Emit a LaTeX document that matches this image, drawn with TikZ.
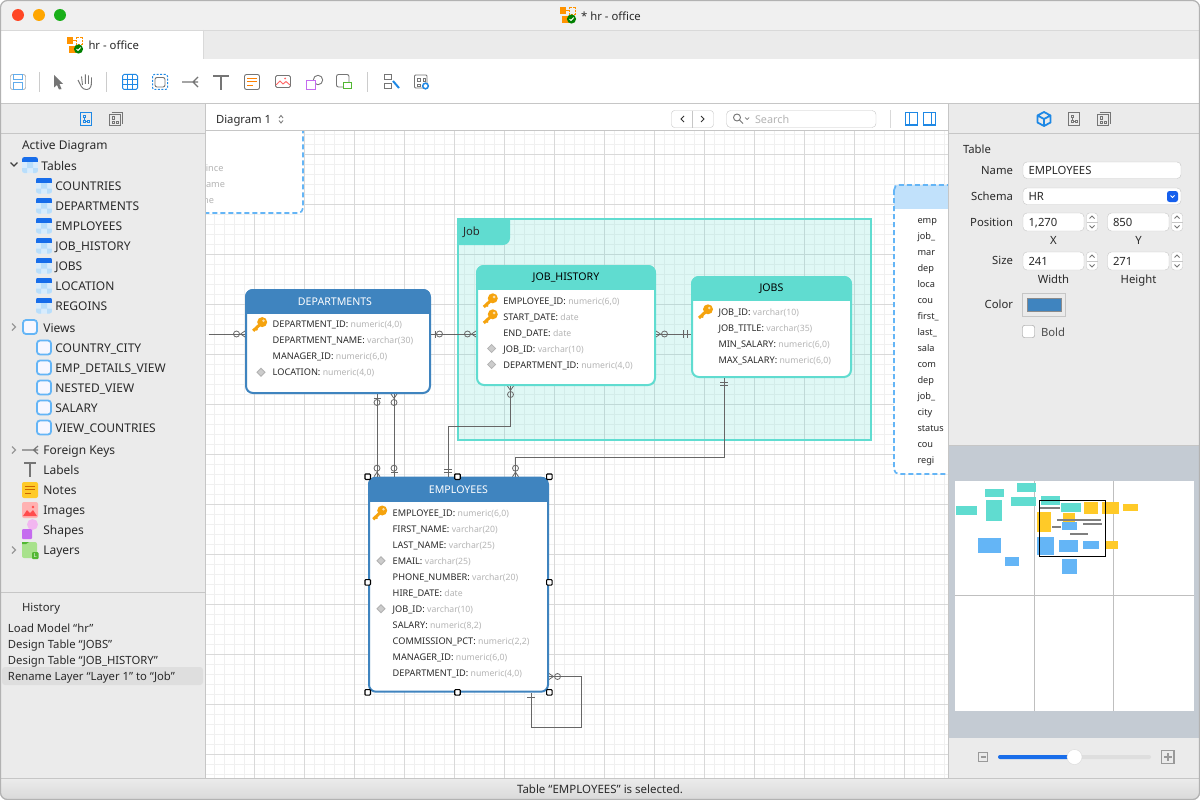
\documentclass[tikz,border=0pt]{standalone}
\usepackage{fontspec}
\setmainfont{Noto Sans}
\usetikzlibrary{positioning}

\definecolor{deptblue}{HTML}{3F84BF}
\definecolor{jobteal}{HTML}{60DCD0}
\definecolor{panelgray}{HTML}{EBEBEB}
\definecolor{linegray}{HTML}{C6C6C6}
\definecolor{fkgray}{HTML}{666666}
\definecolor{typegray}{HTML}{B4B4B4}
\definecolor{textdark}{HTML}{2A2A2A}
\definecolor{dashblue}{HTML}{64B5F6}
\definecolor{iconblue}{HTML}{1E88E5}
\definecolor{icongray}{HTML}{757575}
\definecolor{keyorange}{HTML}{F5A30E}
\definecolor{minibg}{HTML}{C4CBD3}
\definecolor{miniyellow}{HTML}{FFCA28}
\definecolor{minigray}{HTML}{7F7F7F}
\definecolor{shapepink}{HTML}{F2B6F0}
\definecolor{shapepurple}{HTML}{C56CEF}
\definecolor{layergreen}{HTML}{A8E28C}
\definecolor{badgegreen}{HTML}{52B733}

\newcommand\treefont{\fontsize{11.3}{13}\selectfont}
\newcommand\sidefont{\fontsize{12}{14}\selectfont}
\newcommand\fieldfont{\fontsize{9.2}{11}\selectfont}
\newcommand\typefont{\fontsize{8.7}{11}\selectfont}

\tikzset{
  every node/.style={inner sep=0, outer sep=0, text=textdark},
  fieldtext/.style={anchor=west, font=\fieldfont, text height=7, text depth=0},
  treelabel/.style={anchor=west, font=\treefont, text height=8, text depth=0},
  sidelabel/.style={anchor=west, font=\sidefont, text height=8, text depth=0},
  proplabel/.style={anchor=east, font=\treefont, text height=8, text depth=0},
  captionlabel/.style={font=\treefont, text height=8, text depth=0},
  tablebox/.style={rounded corners=7, line width=2, outer sep=1, fill=white, anchor=north west},
  fkline/.style={draw=fkgray, line width=.8},
  handle/.style={draw=black, line width=1.1, fill=white, rounded corners=.8, minimum size=5.5},
  propfield/.style={draw=linegray, fill=white, rounded corners=4, anchor=north west},
  manyzero/.pic={\draw[fkline] (-4.5,0) -- (0,-3) (-4.5,0) -- (0,3); \draw[fkline] (-8.5,0) circle (3);},
  onezero/.pic={\draw[fkline] (-4.5,-3.5) -- (-4.5,3.5); \draw[fkline] (-8.5,0) circle (3);},
  oneone/.pic={\draw[fkline] (-4,-4) -- (-4,4) (-7.5,-4) -- (-7.5,4);},
  onebar/.pic={\draw[fkline] (-4.5,-4) -- (-4.5,4);},
  fieldkey/.pic={
    \draw[keyorange, line width=3] (1,0) -- (-6,6.5);
    \draw[keyorange, line width=1.7] (-3.5,3.5) -- (-2,6);
    \fill[keyorange] (3,-2.2) circle (5);
    \fill[white!65!keyorange] (4.3,-3.5) circle (1.4);},
  fielddiamond/.pic={\draw[fill=black!20, draw=black!30, line width=.8] (-4,0) -- (0,-4) -- (4,0) -- (0,4) -- cycle;},
  tableicon/.pic={
    \begin{scope}
    \clip[rounded corners=2.5] (-8,-8) rectangle (8,8);
    \fill[dashblue!25] (-8,-8) rectangle (8,8);
    \fill[dashblue!45] (-3,-3) rectangle (3,3) (-8,3) rectangle (-3,8) (3,3) rectangle (8,8);
    \fill[iconblue!80!blue] (-8,-8) rectangle (8,-3);
    \end{scope}},
  viewicon/.pic={\draw[dashblue, line width=1.8, fill=blue!3, rounded corners=3] (-7,-7) rectangle (7,7);},
  diagicon/.pic={
    \draw[pic actions, line width=1] (-5.5,-6.5) rectangle (5.5,6.5);
    \draw[pic actions, line width=.8] (-3,-4) rectangle (-.5,-1.5) (-3,1) rectangle (-.5,3.5) (1,1.5) rectangle (3.5,3.5);
    \draw[pic actions, line width=.8] (-1.8,-1.5) -- (-1.8,1) (-.5,2.3) -- (1,2.3);},
  diagstack/.pic={
    \draw[icongray, line width=1] (-4.5,-7) -- (6.5,-7) -- (6.5,4.5);
    \draw[icongray, line width=1, fill=panelgray] (-6.5,-5) rectangle (4.5,6.5);
    \draw[icongray, line width=.8] (-4,-2.5) rectangle (-1.5,0) (-4,2) rectangle (-1.5,4.5) (0,2.5) rectangle (2.5,4.5);},
  modelicon/.pic={
    \fill[orange!85!yellow] (-8,-8) rectangle (-2,-1);
    \draw[orange!85!yellow, line width=.8, dash pattern=on 2 off 1] (1,-8) rectangle (7.5,-1);
    \draw[orange!85!yellow, line width=.8] (-2,-4.5) -- (1,-4.5);
    \fill[orange!85!yellow] (-6,1) rectangle (1,8);
    \fill[green!50!black] (3.5,4) circle (4.6);
    \draw[white, line width=1] (1.5,4) -- (3,5.5) -- (5.7,2.5);},
  stepper/.pic={
    \draw[linegray, fill=white, rounded corners=3] (-5.5,-9) rectangle (5.5,9);
    \draw[linegray] (-5.5,0) -- (5.5,0);
    \draw[icongray, line width=.8] (-2.5,-3.5) -- (0,-6) -- (2.5,-3.5) (-2.5,3.5) -- (0,6) -- (2.5,3.5);},
}

\newcommand\fmk[2]{\pic at (#1-13.5,#2) {fieldkey};}
\newcommand\fmd[2]{\pic at (#1-11.7,#2) {fielddiamond};}
\newcommand\fmn[2]{}

% name, left, top, width, height, colour, title colour, title, title shift
\newcommand\ertable[9]{
  \node[tablebox, draw=#6, minimum width=#4, minimum height=#5] (#1) at (#2,#3) {};
  \begin{scope}
    \clip[rounded corners=8] (#1.south west) rectangle (#1.north east);
    \fill[#6] (#1.north west) rectangle ([yshift=-25pt]#1.north east);
  \end{scope}
  \node[font=\fontsize{10.6}{12}\selectfont, text=#7] (#1title) at ([yshift=-13pt, xshift=#9pt]#1.north) {#8};
}
% name, text x, first row y, rows
\newcommand\errows[4]{
  \foreach \kind/\fname/\ftype [count=\i from 0] in {#4} {
    \pgfmathsetmacro\rowy{#3+16*\i}
    \csname fm\kind\endcsname{#2}{\rowy}
    \node[fieldtext] (#1row\i) at (#2,\rowy) {\fname: \textcolor{typegray}{\typefont\ftype}};
  }
}
\newcommand\propbox[6]{
  \node[propfield, minimum width=#4, minimum height=#5] (#1) at (#2,#3) {};
  \node[captionlabel, anchor=west] (#1text) at ([xshift=5.5pt]#1.west) {#6};
}

\begin{document}
\begin{tikzpicture}[x=1pt, y=-1pt]
\useasboundingbox (0,0) rectangle (1200,800);
\begin{scope}
\clip[rounded corners=7] (0,0) rectangle (1200,800);
\fill[white] (0,0) rectangle (1200,800);
\fill[black!6] (0,0) rectangle (1200,30);
\fill[panelgray] (203,30) rectangle (1200,59);
\fill[panelgray] (0,104) rectangle (205,779);
\fill[panelgray] (949,104) rectangle (1200,446);
\fill[minibg] (949,446) rectangle (1200,738);
\fill[panelgray] (949,738) rectangle (1200,779);
\shade[top color=black!8, bottom color=black!15] (0,779) rectangle (1200,800);

\begin{scope}
\clip (206,131) rectangle (948,778);
\foreach \gx in {214,224,...,944} \draw[black!6] (\gx,131) -- (\gx,778);
\foreach \gy in {134,144,...,774} \draw[black!6] (206,\gy) -- (948,\gy);
\foreach \gx in {254,304,...,904} \draw[black!15] (\gx,131) -- (\gx,778);
\foreach \gy in {154,204,...,754} \draw[black!15] (206,\gy) -- (948,\gy);

\draw[dashblue, line width=1.7, dash pattern=on 5 off 3, fill=white, rounded corners=5] (150,100) rectangle (303,213);
\foreach \t/\tx/\ty in {ince/223.5/168,ame/225/184,ne/214/200} \node[fieldtext, anchor=east, text=typegray] (old\t) at (\tx,\ty) {\t};

\fill[white] (894,185) rectangle (1000,474);
\fill[dashblue!40] (894,185) rectangle (1000,209);
\draw[dashblue, line width=1.7, dash pattern=on 5 off 3, rounded corners=5] (894,185) rectangle (1000,474);
\foreach \t [count=\i from 0] in {emp,job\_,mar,dep,loca,cou,first\_,last\_,sala,com,dep,job\_,city,status,cou,regi} {
  \pgfmathsetmacro\rowy{220+16*\i}
  \node[fieldtext] (loc\i) at (917.5,\rowy) {\t};
}

\node[draw=jobteal, line width=2.5, fill=jobteal, fill opacity=.2, draw opacity=1, anchor=north west, minimum width=413, minimum height=221] (joblayer) at (458,219) {};
\fill[jobteal] (joblayer.north west) -- (510,219) [rounded corners=7] -- (510,245) [sharp corners] -- (458,245) -- cycle;
\node[treelabel] (joblabel) at (463,231) {Job};

\ertable{dept}{245}{289}{184}{103}{deptblue}{white}{DEPARTMENTS}{-3}
\errows{dept}{272.7}{324.3}{k/DEPARTMENT\_ID/{numeric(4,0)},n/DEPARTMENT\_NAME/{varchar(30)},n/MANAGER\_ID/{numeric(6,0)},d/LOCATION/{numeric(4,0)}}
\ertable{jobhist}{476}{265}{178}{119}{jobteal}{black}{JOB\_HISTORY}{0}
\errows{jobhist}{503.3}{300.5}{k/EMPLOYEE\_ID/{numeric(6,0)},k/START\_DATE/date,n/END\_DATE/date,d/JOB\_ID/{varchar(10)},d/DEPARTMENT\_ID/{numeric(4,0)}}
\ertable{jobs}{691}{276}{159}{100}{jobteal}{black}{JOBS}{0}
\errows{jobs}{718.5}{311.5}{k/JOB\_ID/{varchar(10)},n/JOB\_TITLE/{varchar(35)},n/MIN\_SALARY/{numeric(6,0)},n/MAX\_SALARY/{numeric(6,0)}}
\ertable{emp}{368}{476.7}{179}{214}{deptblue}{white}{EMPLOYEES}{0}
\errows{emp}{392.7}{512.7}{k/EMPLOYEE\_ID/{numeric(6,0)},n/FIRST\_NAME/{varchar(20)},n/LAST\_NAME/{varchar(25)},d/EMAIL/{varchar(25)},n/PHONE\_NUMBER/{varchar(20)},n/HIRE\_DATE/date,d/JOB\_ID/{varchar(10)},n/SALARY/{numeric(8,2)},n/COMMISSION\_PCT/{numeric(2,2)},n/MANAGER\_ID/{numeric(6,0)},n/DEPARTMENT\_ID/{numeric(4,0)}}

\coordinate (deptout) at (209,334);
\coordinate (deptwest) at (dept.west |- deptout);
\coordinate (depteast) at (dept.east |- deptout);
\coordinate (histwest) at (jobhist.west |- deptout);
\coordinate (histeast) at (jobhist.east |- deptout);
\coordinate (jobswest) at (jobs.west |- deptout);
\coordinate (deptdowna) at (dept.south -| 377,0);
\coordinate (deptdownb) at (dept.south -| 394,0);
\coordinate (empupa) at (emp.north -| 377,0);
\coordinate (empupb) at (emp.north -| 394,0);
\coordinate (empupc) at (emp.north -| 448,0);
\coordinate (empupd) at (emp.north -| 515.5,0);
\coordinate (histdown) at (jobhist.south -| 510.5,0);
\coordinate (jobsdown) at (jobs.south -| 724,0);
\coordinate (selfout) at (emp.east |- 0,676.5);
\coordinate (selfin) at (emp.south -| 531,0);

\draw[fkline] (deptout) -- (deptwest);
\draw[fkline] (depteast) -- (histwest);
\draw[fkline] (histeast) -- (jobswest);
\draw[fkline] (deptdowna) -- (empupa);
\draw[fkline] (deptdownb) -- (empupb);
\draw[fkline] (histdown) |- (empupc |- 0,426) -- (empupc);
\draw[fkline] (jobsdown) |- (empupd |- 0,457.5) -- (empupd);
\draw[fkline] (selfout) -| (581,727) -| (selfin);

\pic at (deptwest) {manyzero};
\pic[rotate=180] at (depteast) {onezero};
\pic at (histwest) {manyzero};
\pic[rotate=180] at (histeast) {manyzero};
\pic at (jobswest) {oneone};
\pic[rotate=90] at (deptdowna) {onezero};
\pic[rotate=90] at (deptdownb) {manyzero};
\pic[rotate=-90] at (empupa) {manyzero};
\pic[rotate=-90] at (empupb) {onezero};
\pic[rotate=-90] at (empupc) {oneone};
\pic[rotate=-90] at (empupd) {manyzero};
\pic[rotate=90] at (histdown) {manyzero};
\pic[rotate=90] at (jobsdown) {oneone};
\pic[rotate=180] at (selfout) {manyzero};
\pic[rotate=90] at (selfin) {onebar};

\foreach \a/\hx/\hy in {a/367.7/476.7,b/457.5/476.7,c/549.3/476.7,d/367.7/582.3,e/549.3/582.3,f/367.7/692.3,g/457.5/692.3,h/549.3/692.3}
  \node[handle] (sel\a) at (\hx,\hy) {};
\end{scope}

\foreach \sx in {39,106,367} \draw[black!20] (\sx,72) -- (\sx,92);
\draw[black!15] (203,30) -- (203,59);
\draw[linegray] (0,103.5) -- (1200,103.5) (0,133.5) -- (205,133.5) (949,133.5) -- (1200,133.5) (206,130.5) -- (948,130.5);
\draw[linegray] (205.5,104) -- (205.5,779) (948.5,104) -- (948.5,779) (949,445.5) -- (1200,445.5) (0,778.5) -- (1200,778.5) (0,592) -- (205,592);
\draw[black!15] (0,30) -- (1200,30);

\fill[red!70!orange!85!white] (18,15) circle (6);
\fill[orange!70!yellow] (39,15) circle (6);
\fill[green!65!black!90] (60,15) circle (6);
\pic at (568,15) {modelicon};
\node[captionlabel] (windowtitle) at (611,16.5) {* hr - office};
\pic at (75,45) {modelicon};
\node[treelabel] (tabtitle) at (88.5,45.5) {hr - office};

\draw[icongray, rounded corners=2] (10.5,74.5) rectangle (25.5,89.5);
\draw[iconblue!70, line width=1] (13.5,74.5) rectangle (22,79.5) (13.5,89.5) rectangle (22.5,83);
\fill[icongray] (54,75) -- (63,84) -- (59.5,84) -- (61.5,89) -- (59,89.5) -- (57,85) -- (54,87.5) -- cycle;
\draw[icongray, line width=.9, rounded corners=3] (80,84) -- (83,89.5) -- (90,89.5) -- (91.5,84) -- (91.5,77.5);
\draw[icongray, line width=.9] (80,84) -- (78,80) (82.5,85) -- (81.5,76.5) (85.3,84) -- (85.3,74.5) (88.5,84) -- (88.5,75.5);
\draw[iconblue, line width=1, rounded corners=1.5] (122.5,74.5) rectangle (137.5,89.5);
\draw[iconblue, line width=1] (127.5,74.5) -- (127.5,89.5) (132.5,74.5) -- (132.5,89.5) (122.5,79.5) -- (137.5,79.5) (122.5,84.5) -- (137.5,84.5);
\draw[iconblue, line width=1, dash pattern=on 2 off 1.5, rounded corners=2] (152.5,74.5) rectangle (167.5,89.5);
\draw[icongray, line width=.9, rounded corners=2] (155,77.5) rectangle (165,87);
\draw[icongray, line width=1.2] (182,82) -- (198,82) (198,77) -- (193,82) -- (198,87);
\draw[icongray, line width=1.8] (213,76) -- (229,76) (221,76) -- (221,90);
\draw[icongray, line width=.9, rounded corners=2] (244.5,74.5) rectangle (259.5,89.5);
\draw[orange, line width=1] (247,78.5) -- (257,78.5) (247,82) -- (257,82) (247,85.5) -- (253,85.5);
\draw[icongray, line width=.9, rounded corners=1.5] (275.5,75.5) rectangle (290.5,87.5);
\draw[red!60!white, line width=.9] (276,85) -- (280,81) -- (283,84) -- (286,81.5) -- (290,85);
\fill[red!60!white] (285,78.5) circle (1);
\draw[icongray, line width=.9] (318,80) circle (4.7);
\draw[shapepurple, line width=1, fill=white] (306.5,80.5) rectangle (315.5,89.5);
\draw[icongray, line width=.9, rounded corners=2] (336.5,74.5) rectangle (349,87);
\draw[badgegreen, line width=1, fill=white] (343.5,82.5) rectangle (351,88.5);
\draw[icongray, line width=.9] (384.5,74.5) rectangle (391,79) (384.5,83.5) rectangle (391,88);
\draw[iconblue, line width=2] (393,81) -- (399,88);
\draw[icongray, line width=.9, rounded corners=1] (414.5,75) rectangle (427,88);
\draw[icongray, line width=.8] (417,78) rectangle (420,81) (423,78) rectangle (425,81) (417,84) rectangle (420,86);
\draw[iconblue, line width=1.5, fill=white] (425.5,86) circle (2.8);

\pic[draw=iconblue] at (86,119) {diagicon};
\pic at (116,119) {diagstack};
\pic at (1104,119) {diagstack};
\pic[draw=icongray] at (1074,119) {diagicon};
\draw[iconblue, line width=1.8, line join=round] (1044,112) -- (1050.5,115.5) -- (1050.5,122.5) -- (1044,126) -- (1037.5,122.5) -- (1037.5,115.5) -- cycle (1037.5,115.5) -- (1044,119) -- (1050.5,115.5) (1044,119) -- (1044,126);

\node[treelabel] (diagramname) at (216,119.5) {Diagram 1};
\draw[icongray, line width=.8] (279,118) -- (281,115.5) -- (283,118) (279,120.5) -- (281,123) -- (283,120.5);
\draw[linegray, fill=white, rounded corners=3] (671.5,110.5) rectangle (713.5,127.5);
\draw[linegray] (692.5,110.5) -- (692.5,127.5);
\draw[black!80, line width=.9] (684,116) -- (681,119) -- (684,122) (701,116) -- (704,119) -- (701,122);
\draw[linegray, fill=white, rounded corners=4] (726.5,110.5) rectangle (876,127.5);
\draw[icongray, line width=.9] (737,117.5) circle (3.5) (739.5,120) -- (743,123.5);
\draw[icongray, line width=.7] (745,117.5) -- (747,119.5) -- (749,117.5);
\node[anchor=west, font=\fontsize{10.8}{12}\selectfont, text height=8, text depth=0, text=typegray] (searchtext) at (755,119) {Search};
\draw[black!15] (890.5,110) -- (890.5,128);
\draw[iconblue, line width=1.2] (905.5,112.5) rectangle (917.5,125) (923.5,112.5) rectangle (935.5,125);
\draw[iconblue, line width=1.8] (909.5,112.5) -- (909.5,125) (931.5,112.5) -- (931.5,125);

\node[sidelabel] (activediagram) at (22,145.5) {Active Diagram};
\pic at (30,165) {tableicon};
\node[sidelabel] (tablesnode) at (41.3,166) {Tables};
\draw[black!75, line width=1.3] (10.5,162.5) -- (14,166) -- (17.5,162.5);
\foreach \t [count=\i from 0] in {COUNTRIES,DEPARTMENTS,EMPLOYEES,JOB\_HISTORY,JOBS,LOCATION,REGOINS} {
  \pgfmathsetmacro\rowy{186+20*\i}
  \pic at (44,\rowy-.5) {tableicon};
  \node[sidelabel] (tree\i) at (55.3,\rowy) {\t};
}
\pic at (30,327) {viewicon};
\node[sidelabel] (viewsnode) at (43.3,328) {Views};
\foreach \t [count=\i from 0] in {COUNTRY\_CITY,EMP\_DETAILS\_VIEW,NESTED\_VIEW,SALARY,VIEW\_COUNTRIES} {
  \pgfmathsetmacro\rowy{348+20*\i}
  \pic at (44,\rowy-.5) {viewicon};
  \node[sidelabel] (viewrow\i) at (55.3,\rowy) {\t};
}
\foreach \cy in {327,450,550} \draw[black!40, line width=1.3] (12,\cy-3.5) -- (15.5,\cy) -- (12,\cy+3.5);
\foreach \t/\ty in {Foreign Keys/450,Labels/470,Notes/490,Images/510,Shapes/530,Layers/550}
  \node[sidelabel] (item\ty) at (43.3,\ty) {\t};
\draw[icongray, line width=1.2] (22,450) -- (38,450) (38,446) -- (33.5,450) -- (38,454);
\draw[icongray, line width=1.6] (24,463) -- (36,463) (30,463) -- (30,477);
\fill[miniyellow, rounded corners=2] (22,482) rectangle (38,498);
\draw[orange!80!black, line width=.9] (25,486) -- (35,486) (25,489.5) -- (35,489.5) (25,493) -- (31,493);
\fill[red!30!white, rounded corners=2] (22,502) rectangle (38,518);
\fill[red!70!white] (23,516) -- (27,510) -- (30,513) -- (33,510) -- (37,516) -- cycle (33,507) circle (1.3);
\fill[shapepink] (32.5,524.5) circle (5.5);
\fill[shapepurple, rounded corners=1] (22,529) rectangle (32,539);
\fill[layergreen, rounded corners=2] (22,542) rectangle (37,558);
\fill[badgegreen] (22,544) -- (22,542) -- (29,542) -- (26,544) -- cycle;
\fill[badgegreen, rounded corners=1] (32,552) rectangle (38.5,559);
\node[font=\fontsize{5.5}{5}\selectfont, text=white] (layerbadge) at (35.2,555.6) {L};

\node[treelabel] (historyhead) at (22,607) {History};
\fill[black!13, rounded corners=3] (2,667) rectangle (203,685);
\foreach \t/\ty in {Load Model “hr”/628,Design Table “JOBS”/644,Design Table “JOB\_HISTORY”/660,Rename Layer “Layer 1” to “Job”/676}
  \node[treelabel] (hist\ty) at (8,\ty) {\t};

\node[captionlabel, anchor=west] (tablehead) at (963,149.5) {Table};
\node[proplabel] (namelabel) at (1013,170) {Name};
\node[proplabel] (schemalabel) at (1013,196) {Schema};
\node[proplabel] (positionlabel) at (1013,222) {Position};
\node[proplabel] (sizelabel) at (1013,260) {Size};
\node[proplabel] (colorlabel) at (1013,304) {Color};
\propbox{namefield}{1023}{162}{158}{16.5}{EMPLOYEES}
\propbox{schemafield}{1023}{188}{158}{16.5}{HR}
\fill[iconblue!70!blue, rounded corners=2.5] (1167,191) rectangle (1178,202);
\draw[white, line width=.8] (1170.5,195.5) -- (1172.5,197.5) -- (1174.5,195.5);
\propbox{posx}{1023}{213}{61}{18}{1,270}
\propbox{posy}{1107.5}{213}{61.5}{18}{850}
\propbox{sizew}{1023}{252}{61}{18}{241}
\propbox{sizeh}{1107.5}{252}{61.5}{18}{271}
\foreach \sx/\sy in {1092/222,1177/222,1092/261,1177/261} \pic at (\sx,\sy) {stepper};
\node[captionlabel] (xlabel) at (1053.5,240.5) {X};
\node[captionlabel] (ylabel) at (1138.5,240.5) {Y};
\node[captionlabel] (widthlabel) at (1053.5,279.5) {Width};
\node[captionlabel] (heightlabel) at (1138.5,279.5) {Height};
\draw[linegray, fill=panelgray] (1022.5,293.5) rectangle (1065.5,316);
\draw[black!45, fill=deptblue] (1027.5,298.5) rectangle (1061,311);
\draw[black!45, fill=white, rounded corners=2] (1022.5,325.5) rectangle (1034.5,337.5);
\node[treelabel, text=black!70] (boldlabel) at (1041,332) {Bold};

\fill[white] (955,481) rectangle (1194,711);
\begin{scope}[shift={(950,450)}, x=.3333pt, y=-.3333pt]
\draw[black!25, line width=.8] (253,93) -- (253,783) (490,93) -- (490,783) (15,436) -- (732,436);
\foreach \c/\xa/\ya/\xb/\yb in {jobteal/105/117/162/141,jobteal/201/99/258/126,jobteal/18/168/81/195,jobteal/108/150/156/213,jobteal/183/141/258/168,jobteal/273/138/330/165,jobteal/333/159/393/186,miniyellow/402/156/444/192,miniyellow/456/156/507/192,miniyellow/519/162/564/183,miniyellow/339/189/375/216,miniyellow/261/186/303/246,miniyellow/468/273/504/297,dashblue/84/264/153/309,dashblue/165/321/207/348,dashblue/261/261/312/315,dashblue/327/270/384/306,dashblue/399/273/447/297,dashblue/336/216/381/240,dashblue/336/327/381/372,minigray/270/171/330/177,minigray/321/207/453/213,minigray/399/219/456/225,minigray/306/228/333/234,minigray/360/249/414/255}
  \fill[\c] (\xa,\ya) rectangle (\xb,\yb);
\draw[black, line width=1] (268,152) rectangle (467,320);
\end{scope}

\draw[black!40, line width=1.4] (978.5,752.5) rectangle (987.5,761.5);
\draw[black!40, line width=1.4] (980.5,757) -- (985.5,757);
\fill[black!13, rounded corners=2] (998,755) rectangle (1151,759);
\fill[iconblue!80!blue, rounded corners=2] (998,755) rectangle (1072,759);
\draw[black!15, fill=white] (1074.5,757) circle (7.5);
\draw[black!40, line width=1.5] (1161.5,750.5) rectangle (1174,763.5);
\draw[black!40, line width=1.5] (1164,757) -- (1171.5,757) (1167.8,753) -- (1167.8,761);
\node[font=\fontsize{11.5}{13}\selectfont, text height=8, text depth=0] (statustext) at (600,789) {Table “EMPLOYEES” is selected.};
\end{scope}
\draw[black!30, line width=1.2, rounded corners=7] (.5,.5) rectangle (1199.5,799.5);
\end{tikzpicture}
\end{document}
